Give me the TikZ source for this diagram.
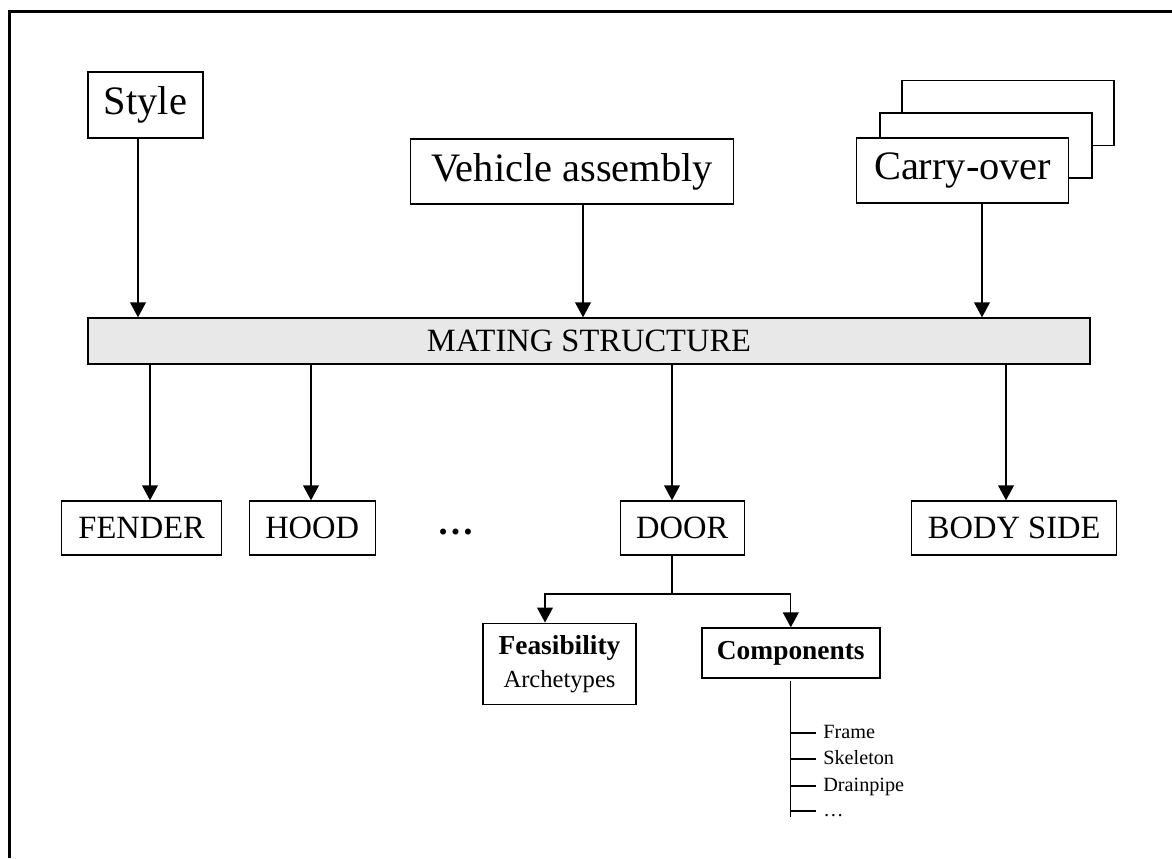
\documentclass[tikz,border=0pt]{standalone}
\usepackage{fontspec}
\setmainfont{Liberation Serif}
\usetikzlibrary{arrows.meta}
\definecolor{barfill}{RGB}{232,232,232}
\newcommand\pxu{0.02cm}

\begin{document}
\begin{tikzpicture}[x=0.02cm, y=-0.02cm,
    box/.style={draw, line width=0.8pt, fill=white, inner sep=0pt, align=center},
    bigbox/.style={box, font=\fontsize{23}{27}\selectfont, minimum height=65*\pxu},
    partbox/.style={box, font=\fontsize{18.5}{22}\selectfont, minimum height=54*\pxu},
    arr/.style={line width=0.75pt, -{Triangle[length=8.5pt, width=9pt]}},
    thin line/.style={line width=0.75pt}]
    % 1. Keret
    \useasboundingbox (0,0) rectangle (1172,858);
    \draw[line width=1.8pt] (9.5,858) -- (9.5,11.5) -- (1172,11.5);

    % 2. Felso dobozok
    \node[bigbox, minimum width=115*\pxu, minimum height=66*\pxu] (style) at (145.5,105) {Style};
    \node[bigbox, minimum width=323*\pxu] (vehicle) at (572,171.5) {Vehicle assembly};
    \node[bigbox, minimum width=212*\pxu] (carry-3) at (1008,113) {};
    \node[bigbox, minimum width=212*\pxu] (carry-2) at (986,145.5) {};
    \node[bigbox, minimum width=212*\pxu] (carry) at (962.7,170.5) {Carry-over};

    % 3. Kozos sav
    \node[box, fill=barfill, font=\fontsize{18.5}{22}\selectfont,
          minimum width=1002*\pxu, minimum height=46*\pxu] (bar) at (589,341) {MATING STRUCTURE};

    \draw[arr] (138,0 |- style.south) -- (138,0 |- bar.north);
    \draw[arr] (583,0 |- vehicle.south) -- (583,0 |- bar.north);
    \draw[arr] (982,0 |- carry.south) -- (982,0 |- bar.north);

    % 4. Alkatreszek
    \node[partbox, minimum width=160*\pxu] (fender) at (141.7,528) {FENDER};
    \node[partbox, minimum width=126*\pxu] (hood) at (312.2,528) {HOOD};
    \node[font=\fontsize{21}{24}\selectfont\bfseries, inner sep=0pt, anchor=base] (dots) at (455.7,534) {…};
    \node[partbox, minimum width=124*\pxu] (door) at (682.2,528) {DOOR};
    \node[partbox, minimum width=205*\pxu] (bodyside) at (1014.2,528) {BODY SIDE};

    \foreach \x/\n in {150/fender, 311/hood, 672/door, 1006/bodyside} {
        \draw[arr] (\x,0 |- bar.south) -- (\x,0 |- \n.north);
    }

    % 5. Ajto bontasa
    \node[box, font=\fontsize{15.6}{18.8}\selectfont, minimum width=153*\pxu, minimum height=81*\pxu]
        (feas) at (559.5,663.7) {\textbf{Feasibility}\\{\fontsize{14}{18.8}\selectfont Archetypes}};
    \node[box, font=\fontsize{15.6}{18.8}\selectfont\bfseries, minimum width=178*\pxu, minimum height=50*\pxu]
        (comp) at (790.8,653) {Components};

    \coordinate (fork) at (672,594);
    \draw[thin line] (fork |- door.south) -- (fork);
    \draw[arr] (fork) -| (545,0 |- feas.north);
    \draw[arr] (fork) -| (comp.north);

    % 6. Alelemek listaja
    \foreach \y/\t [count=\i] in {733/Frame, 759/Skeleton, 786/Drainpipe, 811/…} {
        \node[anchor=west, font=\fontsize{11.5}{13}\selectfont, inner ysep=0pt, inner xsep=7*\pxu,
              text height=0.66em, text depth=0pt] (item-\i) at (816,\y) {\t};
        \draw[thin line] (comp.south |- item-\i.west) -- (item-\i.west);
    }
    \draw[thin line] ([yshift=-2*\pxu]comp.south) -- (comp.south |- 0,817);
\end{tikzpicture}
\end{document}
